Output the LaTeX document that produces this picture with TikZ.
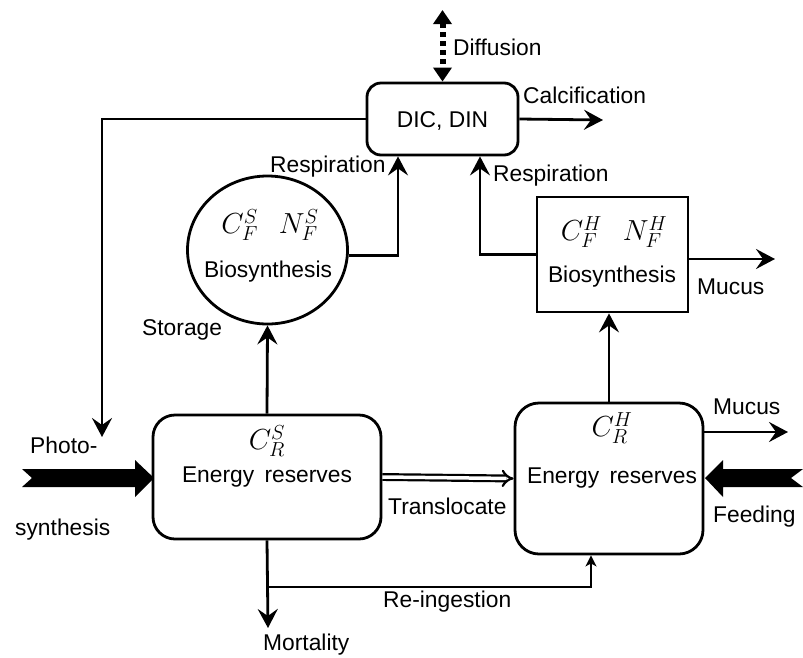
\RequirePackage{fix-cm}
\documentclass[tikz,border=0pt]{standalone}
\usepackage{fontspec}
\setmainfont{Liberation Sans}
\usetikzlibrary{arrows.meta,shapes.geometric}
\begin{document}
\begin{tikzpicture}[x=1pt,y=-1pt,
  every node/.style={font=\fontsize{22.8}{27}\selectfont},
  lbl/.style={anchor=west,inner sep=0pt},
  txt/.style={inner sep=0pt},
  mth/.style={inner sep=0pt,font=\fontsize{29}{33}\selectfont},
  arr/.style={line width=2.8pt,-{Stealth[length=19pt,width=20pt,inset=7pt]}},
  smallarr/.style={line width=2.8pt,-{Stealth[length=11pt,width=11pt,inset=3pt]}},
  diff/.style={line width=6pt,dash pattern=on 5pt off 4pt,{Triangle[length=14pt,width=18pt]}-{Triangle[length=14pt,width=18pt]}},
  rbox/.style={draw,line width=2.8pt,rounded corners=14pt},
  sbox/.style={draw,line width=2.8pt},
  bigarrow/.style={fill=black}
]
\useasboundingbox (0,0) rectangle (803,657);

% nodes
\node[rbox,minimum width=151pt,minimum height=72pt] (dic) at (442.5,119) {};
\node[txt] (dict) at (442.5,121) {DIC, DIN};
\node[draw,ellipse,line width=2.8pt,minimum width=160pt,minimum height=148pt] (fs) at (267.5,250) {};
\node[mth] (fsv) at (270,225) {$C_F^S\;\;\, N_F^S$};
\node[txt] (fsb) at (268,272) {Biosynthesis};
\node[sbox,minimum width=151pt,minimum height=115pt] (hb) at (612.5,254.5) {};
\node[mth] (hbv) at (614,232) {$C_F^H\;\;\, N_F^H$};
\node[txt] (hbb) at (612,277) {Biosynthesis};
\node[rbox,rounded corners=22pt,minimum width=228pt,minimum height=124pt] (sr) at (267,477) {};
\node[mth] (srv) at (267,441) {$C_R^S$};
\node[txt] (srt) at (267,477) {Energy\hspace{0.45em}reserves};
\node[rbox,rounded corners=24pt,minimum width=188pt,minimum height=151pt] (hr) at (609,478.5) {};
\node[mth] (hrv) at (612,428) {$C_R^H$};
\node[txt] (hrt) at (612,478) {Energy\hspace{0.45em}reserves};

% labels
\node[lbl] (ldiff) at (453,47) {Diffusion};
\node[lbl] (lcalc) at (523,95) {Calcification};
\node[lbl] (lresp1) at (270,167) {Respiration};
\node[lbl] (lresp2) at (493,176) {Respiration};
\node[lbl] (lstor) at (142,330) {Storage};
\node[lbl] (lmuc1) at (697,287) {Mucus};
\node[lbl] (lphoto) at (30,445) {Photo-};
\node[lbl] (lsyn) at (15,530) {synthesis};
\node[lbl] (ltrans) at (388,506) {Translocate};
\node[lbl] (lmuc2) at (713,407) {Mucus};
\node[lbl] (lfeed) at (713,517) {Feeding};
\node[lbl] (lrein) at (383,602) {Re-ingestion};
\node[lbl] (lmort) at (263,645) {Mortality};

% coordinates
\coordinate (difftop) at (442.5,10);
\coordinate (calcend) at (603,120);
\coordinate (photoin) at (102,437);
\coordinate (muc1end) at (775,259);
\coordinate (muc2end) at (788,432);
\coordinate (mortend) at (268,628);
\coordinate (junc) at (268,587);

% connectors
\draw[diff] (difftop) -- (dic.north);
\draw[arr] (dic.east) -- (calcend);
\draw[arr] (dic.west) -| (photoin);
\draw[arr] (fs.-4) -| ([xshift=-44.5pt]dic.south);
\draw[arr] (hb.west) -| ([xshift=37.5pt]dic.south);
\draw[arr] ([yshift=-4.5pt]hb.east) -- (muc1end);
\draw[arr] (sr.north) -- (fs.south);
\draw[arr] (hr.north) -- (hr.north |- hb.south);
\draw[line width=2.2pt,double distance=3.5pt,-{Implies[length=15pt]}] (sr.east) -- (hr.west);
\draw[arr] (sr.south) -- (mortend);
\draw[smallarr] (junc) -| ([xshift=-18pt]hr.south);
\draw[arr] ([yshift=46.5pt]hr.east) -- (muc2end);

% big filled arrows
\fill[bigarrow] (22,469) -- (135,469) -- (135,460) -- (154,478) -- (135,497) -- (135,487) -- (22,487) -- (32,478) -- cycle;
\fill[bigarrow] (803,469) -- (723,469) -- (723,460) -- (705,478) -- (723,497) -- (723,487) -- (803,487) -- (791,478) -- cycle;
\end{tikzpicture}
\end{document}
